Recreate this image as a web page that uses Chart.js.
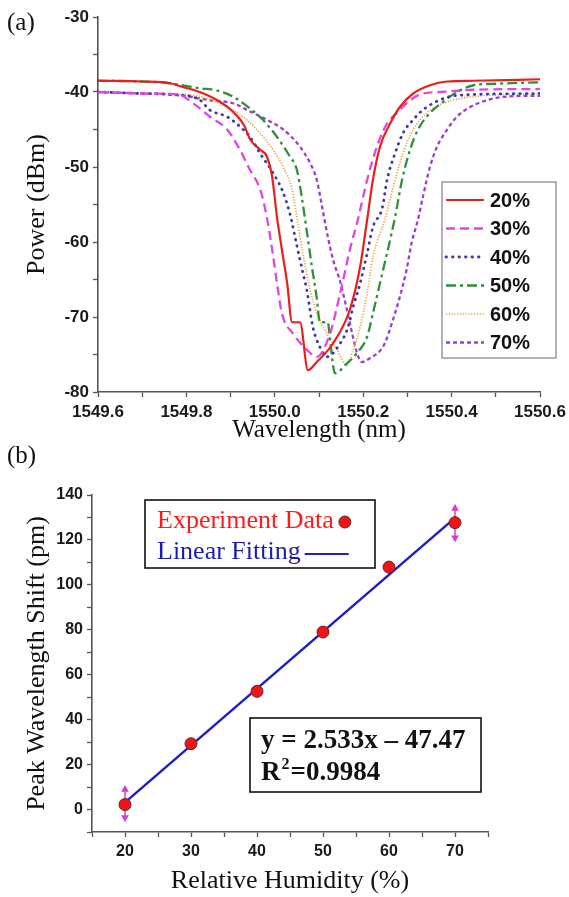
<!DOCTYPE html>
<html><head><meta charset="utf-8">
<script src="https://cdn.jsdelivr.net/npm/chart.js@4.4.1/dist/chart.umd.min.js"></script>
<style>
html,body{margin:0;padding:0;background:#fff;width:569px;height:897px;overflow:hidden;position:relative;}
#ca{position:absolute;left:0;top:0;}
#cb{position:absolute;left:0;top:460px;}
.lab{position:absolute;font-family:"Liberation Serif","Times New Roman",serif;font-size:25px;color:#111;line-height:28px;}
</style></head><body>
<canvas id="ca" width="569" height="445"></canvas>
<canvas id="cb" width="569" height="437"></canvas>
<div class="lab" style="left:7px;top:8px">(a)</div>
<div class="lab" style="left:7px;top:441px">(b)</div>
<script>
// ---------- (a) spectra ----------
const legendLabels = ['20%','30%','40%','50%','60%','70%'];
const wl20 = [1549.60,1549.70,1549.76,1549.79,1549.83,1549.87,1549.905,1549.93,1549.945,1549.967,1549.982,1549.994,1550.005,1550.016,1550.028,1550.039,1550.057,1550.075,1550.095,1550.132,1550.170,1550.193,1550.209,1550.222,1550.238,1550.261,1550.283,1550.313,1550.351,1550.39,1550.45,1550.6];
const p20  = [-38.5,-38.6,-38.8,-39.3,-40.0,-41.1,-42.6,-44.4,-46.4,-47.7,-48.6,-51.3,-56.7,-61.0,-65.5,-70.7,-70.7,-77.1,-76.0,-73.5,-69.0,-63.3,-57.0,-51.7,-47.3,-44.2,-42.0,-40.2,-39.1,-38.6,-38.5,-38.3];
const wl30 = [1549.60,1549.70,1549.78,1549.815,1549.853,1549.892,1549.921,1549.944,1549.967,1549.982,1549.994,1550.005,1550.016,1550.041,1550.073,1550.095,1550.125,1550.148,1550.170,1550.188,1550.209,1550.231,1550.254,1550.276,1550.306,1550.335,1550.374,1550.45,1550.6];
const p30  = [-40.0,-40.2,-40.3,-41.5,-43.3,-45.0,-47.7,-50.4,-53.0,-56.7,-61.0,-65.5,-69.5,-72.2,-74.4,-75.3,-72.2,-66.8,-61.0,-57.0,-51.7,-47.3,-44.2,-42.8,-41.1,-40.2,-40.0,-39.7,-39.6];
const wl40 = [1549.60,1549.70,1549.79,1549.831,1549.853,1549.892,1549.921,1549.944,1549.967,1549.996,1550.016,1550.034,1550.050,1550.062,1550.073,1550.086,1550.102,1550.118,1550.148,1550.166,1550.177,1550.193,1550.209,1550.222,1550.243,1550.254,1550.272,1550.290,1550.313,1550.335,1550.358,1550.396,1550.426,1550.6];
const p40  = [-40.0,-40.2,-40.4,-41.1,-42.4,-43.3,-44.6,-46.0,-48.2,-50.8,-53.0,-56.2,-60.5,-63.7,-66.6,-71.3,-74.0,-75.3,-73.5,-71.3,-68.7,-65.5,-61.5,-58.0,-55.5,-51.7,-48.2,-45.5,-43.7,-42.4,-41.5,-40.6,-40.4,-40.2];
const wl50 = [1549.60,1549.70,1549.756,1549.831,1549.869,1549.905,1549.944,1549.973,1550.005,1550.034,1550.050,1550.062,1550.073,1550.084,1550.095,1550.102,1550.120,1550.125,1550.136,1550.163,1550.186,1550.209,1550.222,1550.238,1550.272,1550.288,1550.306,1550.324,1550.351,1550.381,1550.412,1550.45,1550.5,1550.6];
const p50  = [-38.5,-38.6,-38.8,-39.5,-39.8,-40.6,-42.2,-43.7,-46.0,-48.6,-50.4,-54.4,-58.8,-63.3,-67.5,-70.7,-70.7,-73.0,-77.5,-76.2,-74.8,-72.6,-69.5,-65.5,-56.7,-51.7,-47.7,-45.0,-42.8,-41.3,-40.0,-39.1,-38.9,-38.7];
const wl60 = [1549.60,1549.70,1549.78,1549.831,1549.892,1549.928,1549.967,1549.996,1550.019,1550.039,1550.050,1550.062,1550.080,1550.095,1550.118,1550.141,1550.163,1550.177,1550.193,1550.209,1550.222,1550.249,1550.270,1550.290,1550.313,1550.344,1550.381,1550.426,1550.5,1550.6];
const p60  = [-40.0,-40.2,-40.3,-40.6,-42.0,-43.3,-45.5,-47.7,-50.0,-53.0,-56.7,-61.0,-66.4,-69.5,-72.2,-74.4,-76.4,-74.4,-71.3,-66.8,-62.0,-57.0,-52.2,-48.2,-45.0,-42.8,-41.5,-40.8,-40.4,-40.2];
const wl70 = [1549.60,1549.70,1549.792,1549.853,1549.905,1549.944,1549.982,1550.019,1550.057,1550.080,1550.095,1550.107,1550.120,1550.132,1550.148,1550.163,1550.175,1550.186,1550.197,1550.215,1550.238,1550.249,1550.265,1550.281,1550.297,1550.310,1550.324,1550.335,1550.351,1550.367,1550.390,1550.412,1550.442,1550.480,1550.525,1550.6];
const p70  = [-40.0,-40.2,-40.5,-41.1,-41.5,-42.6,-43.7,-45.0,-47.3,-49.5,-51.7,-55.3,-59.3,-62.4,-65.3,-69.0,-72.2,-74.8,-76.0,-75.5,-74.5,-73.5,-70.8,-67.7,-64.0,-60.0,-57.0,-54.0,-50.0,-47.3,-45.0,-43.3,-42.0,-41.1,-40.6,-40.5];

// ---------- (b) peak shift ----------
const rh = [20,30,40,50,60,70];
const shift = [2.2,29.3,52.6,79,107.9,127.7];
const fitX = [20,70];
const fitY = [3.2,129.8];
const errX = [20,70];
const errLow = [-3.6,121];
const errHigh = [8.9,134];

const pts = (xs, ys) => xs.map((x, i) => ({x, y: ys[i]}));

const legendA = {
  id: 'legendA',
  afterDatasetsDraw(chart, args, o) {
    const ctx = chart.ctx;
    ctx.save();
    ctx.fillStyle = '#fff';
    ctx.fillRect(o.x, o.y, o.w, o.h);
    ctx.strokeStyle = '#8a8a8a'; ctx.lineWidth = 1.3;
    ctx.strokeRect(o.x, o.y, o.w, o.h);
    chart.data.datasets.forEach((ds, i) => {
      const y = o.row0 + i * o.gap;
      ctx.beginPath();
      ctx.setLineDash(ds.borderDash || []);
      ctx.lineCap = ds.borderCapStyle || 'butt';
      ctx.strokeStyle = ds.borderColor; ctx.lineWidth = ds.borderWidth;
      ctx.moveTo(o.lx0, y); ctx.lineTo(o.lx1, y); ctx.stroke();
      ctx.setLineDash([]);
      ctx.fillStyle = '#111'; ctx.font = o.font;
      ctx.textBaseline = 'middle'; ctx.textAlign = 'left';
      ctx.fillText(ds.label, o.tx, y + 1);
    });
    ctx.restore();
  }
};

function lineDs(label, xs, ys, color, dash, width, cap) {
  return {label, data: pts(xs, ys), borderColor: color, backgroundColor: color,
    borderWidth: width, borderDash: dash, borderCapStyle: cap || 'butt',
    pointRadius: 0, cubicInterpolationMode: 'monotone', fill: false};
}

const tickFontA = {family: '"Liberation Sans", Arial, sans-serif', size: 17, weight: 'bold'};
const serif = '"Liberation Serif", "Times New Roman", serif';

new Chart(document.getElementById('ca'), {
  type: 'line',
  data: {datasets: [
    lineDs(legendLabels[0], wl20, p20, '#e8201c', [], 2.2),
    lineDs(legendLabels[1], wl30, p30, '#e045e6', [9, 5], 2.3),
    lineDs(legendLabels[2], wl40, p40, '#3c3ca8', [0.5, 6], 2.8, 'round'),
    lineDs(legendLabels[3], wl50, p50, '#2f8f3a', [10, 4, 3, 4], 2.3),
    lineDs(legendLabels[4], wl60, p60, '#e6a23c', [1.2, 1.6], 1.7),
    lineDs(legendLabels[5], wl70, p70, '#9b3fd0', [4, 3], 2.3)
  ]},
  options: {
    responsive: false, animation: false, devicePixelRatio: 1,
    layout: {padding: {left: 0, right: 29, top: 17, bottom: 0}},
    plugins: {
      legend: {display: false}, tooltip: {enabled: false},
      legendA: {x: 442, y: 182, w: 114, h: 176, row0: 200, gap: 28.5, lx0: 446, lx1: 484, tx: 490,
        font: 'bold 20px "Liberation Sans", Arial, sans-serif'}
    },
    scales: {
      x: {
        type: 'linear', min: 1549.6, max: 1550.6,
        afterFit: s => { s.height = 53; s.paddingLeft = 0; s.paddingRight = 0; },
        grid: {display: true, drawOnChartArea: false, drawTicks: true, tickLength: 5, tickColor: '#555', tickWidth: 1.3},
        border: {display: true, color: '#555', width: 1.6},
        ticks: {stepSize: 0.1, autoSkip: false, maxRotation: 0, padding: 5, color: '#1a1a1a', font: tickFontA,
          callback: (v, i) => (i % 2 === 0 ? v.toFixed(1) : '')},
        title: {display: true, text: 'Wavelength (nm)', color: '#111',
          font: {family: serif, size: 25, lineHeight: 1.2}, padding: {top: 0, bottom: 0}}
      },
      y: {
        type: 'linear', min: -80, max: -30,
        afterFit: s => { s.width = 98; s.paddingTop = 0; s.paddingBottom = 0; },
        grid: {display: true, drawOnChartArea: false, drawTicks: true, tickLength: 5, tickColor: '#555', tickWidth: 1.3},
        border: {display: true, color: '#555', width: 1.6},
        ticks: {stepSize: 5, autoSkip: false, padding: 4, color: '#1a1a1a', font: tickFontA,
          callback: v => (Math.round(v) % 10 === 0 ? String(Math.round(v)) : '')},
        title: {display: true, text: 'Power (dBm)', color: '#111',
          font: {family: serif, size: 26, lineHeight: 1.2}, padding: {top: 22, bottom: 0}}
      }
    }
  },
  plugins: [legendA]
});

// ---------- chart (b) ----------
const boxesB = {
  id: 'boxesB',
  afterDatasetsDraw(chart, args, o) {
    const ctx = chart.ctx;
    ctx.save();
    ctx.strokeStyle = '#111'; ctx.lineWidth = 1.6;
    ctx.strokeRect(o.lg.x, o.lg.y, o.lg.w, o.lg.h);
    ctx.textBaseline = 'middle'; ctx.textAlign = 'left';
    ctx.font = o.lg.font;
    const ptDs = chart.data.datasets[0], lnDs = chart.data.datasets[1];
    ctx.fillStyle = o.lg.c1;
    ctx.fillText(ptDs.label, o.lg.tx, o.lg.r1);
    const w1 = ctx.measureText(ptDs.label).width;
    ctx.beginPath();
    ctx.arc(o.lg.tx + w1 + 11, o.lg.r1 + 1, 6, 0, Math.PI * 2);
    ctx.fillStyle = ptDs.backgroundColor; ctx.fill();
    ctx.lineWidth = 1; ctx.strokeStyle = ptDs.borderColor; ctx.stroke();
    ctx.fillStyle = o.lg.c2;
    ctx.fillText(lnDs.label, o.lg.tx, o.lg.r2);
    const w2 = ctx.measureText(lnDs.label).width;
    ctx.beginPath();
    ctx.moveTo(o.lg.tx + w2 + 4, o.lg.r2 + 2); ctx.lineTo(o.lg.tx + w2 + 48, o.lg.r2 + 2);
    ctx.strokeStyle = lnDs.borderColor; ctx.lineWidth = 2; ctx.stroke();
    ctx.strokeStyle = '#111'; ctx.lineWidth = 1.6;
    ctx.strokeRect(o.eq.x, o.eq.y, o.eq.w, o.eq.h);
    ctx.fillStyle = '#111';
    ctx.font = o.eq.font;
    ctx.fillText(o.eq.line1, o.eq.tx, o.eq.r1);
    ctx.fillText('R', o.eq.tx, o.eq.r2);
    const rw = ctx.measureText('R').width;
    ctx.font = o.eq.supFont;
    ctx.fillText('2', o.eq.tx + rw + 1, o.eq.r2 - 8);
    const sw = ctx.measureText('2').width;
    ctx.font = o.eq.font;
    ctx.fillText('=0.9984', o.eq.tx + rw + sw + 2, o.eq.r2);
    ctx.restore();
  }
};

const tickFontB = {family: '"Liberation Sans", Arial, sans-serif', size: 16, weight: 'bold'};

new Chart(document.getElementById('cb'), {
  type: 'scatter',
  data: {datasets: [
    {label: 'Experiment Data', data: pts(rh, shift), backgroundColor: '#f01414', borderColor: '#5a2a2a',
      borderWidth: 1, pointRadius: 6, showLine: false},
    {label: 'Linear Fitting', data: pts(fitX, fitY), borderColor: '#1f1fc4', backgroundColor: '#1f1fc4',
      borderWidth: 2.5, pointRadius: 0, showLine: true},
    {label: 'err20', data: [{x: errX[0], y: errLow[0]}, {x: errX[0], y: errHigh[0]}], borderColor: '#d23cdc',
      backgroundColor: '#d23cdc', borderWidth: 1.5, showLine: true, pointStyle: 'triangle', pointRadius: 3, rotation: [180, 0]},
    {label: 'err70', data: [{x: errX[1], y: errLow[1]}, {x: errX[1], y: errHigh[1]}], borderColor: '#d23cdc',
      backgroundColor: '#d23cdc', borderWidth: 1.5, showLine: true, pointStyle: 'triangle', pointRadius: 3, rotation: [180, 0]}
  ]},
  options: {
    responsive: false, animation: false, devicePixelRatio: 1,
    layout: {padding: {left: 0, right: 81, top: 35, bottom: 0}},
    plugins: {
      legend: {display: false}, tooltip: {enabled: false},
      boxesB: {
        lg: {x: 145, y: 40, w: 230, h: 68, tx: 157, r1: 61, r2: 92, c1: '#ff1a1a', c2: '#1c1cb0',
          font: '26px "Liberation Serif", "Times New Roman", serif'},
        eq: {x: 250, y: 258, w: 231, h: 74, tx: 261, r1: 281, r2: 313,
          line1: 'y = 2.533x \u2013 47.47',
          font: 'bold 27px "Liberation Serif", "Times New Roman", serif',
          supFont: 'bold 16px "Liberation Serif", "Times New Roman", serif'}
      }
    },
    scales: {
      x: {
        type: 'linear', min: 15, max: 75,
        afterFit: s => { s.height = 65; s.paddingLeft = 0; s.paddingRight = 0; },
        grid: {display: true, drawOnChartArea: false, drawTicks: true, tickLength: 5, tickColor: '#555', tickWidth: 1.3},
        border: {display: true, color: '#555', width: 1.6},
        ticks: {stepSize: 5, autoSkip: false, maxRotation: 0, padding: 5, color: '#1a1a1a', font: tickFontB,
          callback: v => (v % 10 === 0 && v >= 20 && v <= 70 ? String(v) : '')},
        title: {display: true, text: 'Relative Humidity (%)', color: '#111',
          font: {family: serif, size: 26, lineHeight: 1.2}, padding: {top: 0, bottom: 0}}
      },
      y: {
        type: 'linear', min: -10, max: 140,
        afterFit: s => { s.width = 92; s.paddingTop = 0; s.paddingBottom = 0; },
        grid: {display: true, drawOnChartArea: false, drawTicks: true, tickLength: 5, tickColor: '#555', tickWidth: 1.3},
        border: {display: true, color: '#555', width: 1.6},
        ticks: {stepSize: 10, autoSkip: false, padding: 4, color: '#1a1a1a', font: tickFontB,
          callback: v => (v % 20 === 0 && v >= 0 ? String(v) : '')},
        title: {display: true, text: 'Peak Wavelength Shift (pm)', color: '#111',
          font: {family: serif, size: 26, lineHeight: 1.2}, padding: {top: 22, bottom: 0}}
      }
    }
  },
  plugins: [boxesB]
});
</script>
</body></html>
